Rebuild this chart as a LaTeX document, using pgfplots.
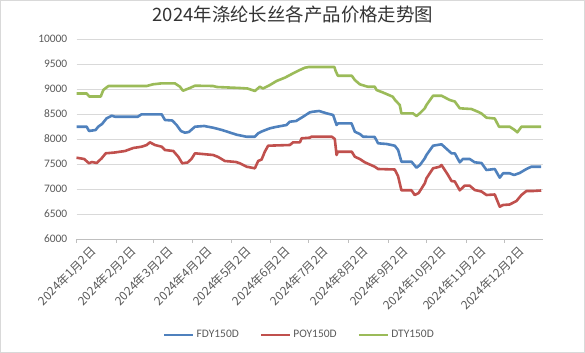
\documentclass[border=0pt]{standalone}
\usepackage{fontspec}
\setmainfont{Carlito}
\newfontfamily\cjk{Noto Sans CJK SC}
\usepackage{pgfplots}
\pgfplotsset{compat=1.18}
\definecolor{fdy}{HTML}{4F81BD}
\definecolor{poy}{HTML}{C0504D}
\definecolor{dty}{HTML}{9BBB59}
\definecolor{gridc}{HTML}{D9D9D9}
\definecolor{axc}{HTML}{BFBFBF}
\definecolor{txt}{HTML}{595959}
\begin{document}
\begin{tikzpicture}
\useasboundingbox (0,0) rectangle (585bp,353bp);
\draw[gridc, line width=0.8bp] (0.4bp,0.4bp) rectangle (584.6bp,352.6bp);
\begin{axis}[
  at={(76.5bp,114bp)}, anchor=south west,
  scale only axis, width=466bp, height=200bp,
  xmin=0, xmax=365, ymin=6000, ymax=10000,
  scaled y ticks=false,
  axis lines*=left,
  x axis line style={axc, line width=0.8bp, -},
  y axis line style={draw=none},
  ytick={6000,6500,7000,7500,8000,8500,9000,9500,10000},
  yticklabels={6000,6500,7000,7500,8000,8500,9000,9500,10000},
  ymajorgrids, grid style={gridc, line width=0.8bp},
  xtick={0,31,60,91,121,152,182,213,244,274,305,335},
  xticklabels={2024年1月2日,2024年2月2日,2024年3月2日,2024年4月2日,2024年5月2日,2024年6月2日,2024年7月2日,2024年8月2日,2024年9月2日,2024年10月2日,2024年11月2日,2024年12月2日},
  xtick style={axc, line width=0.8bp}, tick align=outside, major tick length=4bp,
  ytick style={draw=none},
  xticklabel style={font=\cjk\fontsize{12}{13}\selectfont, text=txt, rotate=45, anchor=north east, inner sep=0pt, xshift=8bp, yshift=-11bp},
  yticklabel style={font=\fontsize{11.5}{13}\selectfont, text=txt, anchor=east, inner sep=0pt, xshift=-5bp},
  title={2024年涤纶长丝各产品价格走势图},
  title style={font=\cjk\fontsize{18.5}{20}\selectfont, text=black!80, at={(0.4646,1.095)}, anchor=center},
  legend columns=3,
  legend style={at={(0.4785,-0.48)}, anchor=center, draw=none, fill=none, font=\fontsize{11.5}{13}\selectfont, text=txt,
    /tikz/every even column/.append style={column sep=19bp}, inner sep=0pt},
  legend image code/.code={\draw[#1, line width=2.6bp] (0bp,0bp) -- (29bp,0bp);},
  every axis plot/.append style={line width=2.6bp, line join=round},
  clip=false,
]
\addplot[fdy] coordinates {
(0,8246)(8,8246)(9.8,8160)(15,8180)(17,8246)(20,8300)(23.6,8414)(27.6,8466)(30,8446)(48,8446)(51,8494)(66.7,8494)(69.3,8380)(75,8370)(78.4,8280)(81.8,8160)(84.9,8126)(88,8140)(92.8,8246)(100,8260)(107,8226)(114,8180)(117.6,8150)(125.4,8086)(133,8046)(139.7,8046)(142.3,8114)(145,8150)(151.5,8214)(156,8240)(164.5,8280)(167.1,8346)(172,8360)(177.5,8446)(182.8,8534)(185.3,8546)(190,8560)(195.8,8514)(201,8480)(203.7,8280)(205,8314)(215.4,8314)(218,8146)(221.9,8100)(224.5,8046)(233.6,8040)(236.2,7914)(243,7900)(249.3,7866)(251.9,7780)(254.5,7546)(262.4,7546)(266.3,7426)(269,7480)(272.8,7614)(274.1,7680)(279.3,7866)(285.9,7894)(293.7,7714)(296.3,7714)(300.2,7534)(302.6,7600)(308,7600)(311.9,7534)(317.2,7520)(321.1,7380)(327.6,7400)(331.5,7226)(334.1,7314)(339.3,7314)(342.7,7280)(347.1,7320)(352.4,7400)(356.3,7446)(364,7446)
};
\addlegendentry{FDY150D}
\addplot[poy] coordinates {
(0,7626)(6,7600)(9.8,7514)(12,7540)(15.8,7520)(19.7,7614)(22.9,7714)(30,7730)(38,7760)(44.5,7820)(51,7846)(55,7880)(57.5,7934)(61.4,7880)(66.7,7846)(69.3,7780)(75.8,7760)(79.7,7646)(82.8,7514)(87,7530)(90,7600)(92.8,7714)(107,7680)(111,7640)(116.2,7560)(125,7540)(128,7514)(133.2,7446)(139.7,7414)(142.3,7560)(145,7590)(147.5,7746)(150.1,7866)(167.1,7880)(169.7,7934)(175,7934)(176.3,8014)(182.8,8026)(184,8046)(200,8046)(202.3,8000)(203.7,7680)(204.7,7746)(215.6,7746)(218,7646)(221.9,7600)(225.8,7534)(233.6,7446)(236.2,7400)(249.3,7390)(251.9,7254)(254.5,6974)(262.4,6974)(264.9,6880)(268,6920)(272.8,7114)(274.1,7214)(279.3,7414)(284.5,7446)(285.9,7480)(291,7280)(293.7,7160)(296.3,7150)(300.2,6974)(304,7066)(308,7066)(311.9,6980)(317.2,6950)(321.1,6880)(327.6,6890)(331.5,6646)(334.1,6680)(339.3,6690)(344.6,6760)(348.5,6880)(352.4,6960)(357.5,6960)(364,6970)
};
\addlegendentry{POY150D}
\addplot[dty] coordinates {
(0,8910)(8,8910)(10,8850)(19,8850)(21,8980)(24,9040)(25,9060)(55,9060)(60,9094)(67,9114)(77,9114)(81,9046)(83.4,8966)(88.8,9020)(92.8,9066)(107,9060)(110,9040)(128,9020)(134,9010)(139.7,8960)(143.6,9046)(146,9010)(151.5,9080)(156.7,9160)(163.2,9226)(169.7,9314)(174.9,9380)(178.9,9426)(182,9440)(202,9440)(203,9360)(204.7,9266)(215.6,9266)(218,9180)(221.9,9094)(228,9046)(233.6,9046)(235,8980)(240,8930)(241.5,8914)(247.7,8846)(249.5,8780)(253.2,8680)(254.5,8514)(263.4,8514)(266.3,8460)(268.9,8514)(272.8,8614)(274.1,8680)(279.3,8866)(285.9,8866)(292.3,8780)(296.3,8750)(300.2,8614)(309.3,8600)(314.3,8546)(317,8514)(321.1,8426)(327.6,8410)(330.9,8246)(339.3,8246)(343.2,8180)(345.3,8134)(348.5,8246)(364,8246)
};
\addlegendentry{DTY150D}
\end{axis}
\end{tikzpicture}
\end{document}
